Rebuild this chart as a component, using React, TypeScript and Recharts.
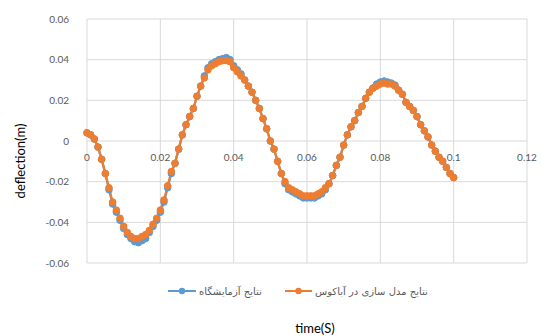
import React from 'react';
import { LineChart, Line, XAxis, YAxis, CartesianGrid, Legend, Label } from 'recharts';

const times = [
  0.000, 0.001, 0.002, 0.003, 0.004, 0.005, 0.006, 0.007, 0.008, 0.009,
  0.010, 0.011, 0.012, 0.013, 0.014, 0.015, 0.016, 0.017, 0.018, 0.019,
  0.020, 0.021, 0.022, 0.023, 0.024, 0.025, 0.026, 0.027, 0.028, 0.029,
  0.030, 0.031, 0.032, 0.033, 0.034, 0.035, 0.036, 0.037, 0.038, 0.039,
  0.040, 0.041, 0.042, 0.043, 0.044, 0.045, 0.046, 0.047, 0.048, 0.049,
  0.050, 0.051, 0.052, 0.053, 0.054, 0.055, 0.056, 0.057, 0.058, 0.059,
  0.060, 0.061, 0.062, 0.063, 0.064, 0.065, 0.066, 0.067, 0.068, 0.069,
  0.070, 0.071, 0.072, 0.073, 0.074, 0.075, 0.076, 0.077, 0.078, 0.079,
  0.080, 0.081, 0.082, 0.083, 0.084, 0.085, 0.086, 0.087, 0.088, 0.089,
  0.090, 0.091, 0.092, 0.093, 0.094, 0.095, 0.096, 0.097, 0.098, 0.099,
  0.100,
];

// نتایج مدل سازی در آباکوس (orange)
const abaqus = [
  0.004, 0.003, 0.001, -0.003, -0.009, -0.016, -0.023, -0.030, -0.034, -0.038,
  -0.042, -0.045, -0.047, -0.048, -0.048, -0.047, -0.046, -0.044, -0.041, -0.038,
  -0.034, -0.029, -0.022, -0.015, -0.011, -0.004, 0.003, 0.008, 0.012, 0.016,
  0.022, 0.027, 0.031, 0.035, 0.037, 0.038, 0.039, 0.0395, 0.0395, 0.039,
  0.036, 0.034, 0.032, 0.030, 0.027, 0.024, 0.020, 0.016, 0.011, 0.006,
  0.000, -0.004, -0.010, -0.016, -0.020, -0.023, -0.024, -0.025, -0.026, -0.027,
  -0.027, -0.027, -0.027, -0.026, -0.025, -0.023, -0.021, -0.017, -0.012, -0.008,
  -0.002, 0.003, 0.007, 0.010, 0.014, 0.017, 0.021, 0.024, 0.026, 0.027,
  0.028, 0.0285, 0.028, 0.028, 0.027, 0.025, 0.023, 0.019, 0.017, 0.015,
  0.012, 0.008, 0.005, 0.002, -0.002, -0.005, -0.008, -0.010, -0.013, -0.016,
  -0.018,
];

// نتایج آزمایشگاه (blue)
const experiment = [
  0.004, 0.003, 0.001, -0.003, -0.009, -0.016, -0.024, -0.031, -0.035, -0.039,
  -0.043, -0.046, -0.048, -0.0495, -0.050, -0.049, -0.048, -0.045, -0.042, -0.039,
  -0.035, -0.030, -0.023, -0.016, -0.011, -0.004, 0.003, 0.008, 0.012, 0.016,
  0.022, 0.027, 0.032, 0.036, 0.038, 0.039, 0.040, 0.0405, 0.041, 0.040,
  0.037, 0.035, 0.033, 0.030, 0.027, 0.024, 0.020, 0.016, 0.011, 0.006,
  0.000, -0.004, -0.010, -0.016, -0.021, -0.024, -0.025, -0.026, -0.027, -0.028,
  -0.028, -0.028, -0.028, -0.027, -0.026, -0.024, -0.021, -0.017, -0.012, -0.008,
  -0.002, 0.003, 0.007, 0.010, 0.014, 0.017, 0.021, 0.024, 0.026, 0.028,
  0.029, 0.0295, 0.029, 0.0285, 0.0275, 0.025, 0.023, 0.019, 0.017, 0.015,
  0.012, 0.008, 0.005, 0.002, -0.002, -0.005, -0.008, -0.010, -0.013, -0.016,
  -0.018,
];

const xTicks = [0, 0.02, 0.04, 0.06, 0.08, 0.1, 0.12];
const yTicks = [-0.06, -0.04, -0.02, 0, 0.02, 0.04, 0.06];

const seriesNames = {
  experiment: 'نتایج آزمایشگاه',
  abaqus: 'نتایج مدل سازی در آباکوس',
};

const data = times.map((t, i) => ({ t, experiment: experiment[i], abaqus: abaqus[i] }));

const W = 542;
const H = 336;
const TOP = 19;
const RIGHT = 15;
const Y_AXIS_W = 87;
const X_AXIS_H = 73;
const PLOT_H = H - TOP - X_AXIS_H;
const Y_MIN = -0.06;
const Y_MAX = 0.06;
const ZERO_Y = TOP + (PLOT_H * (Y_MAX - 0)) / (Y_MAX - Y_MIN);

const BLUE = '#5B9BD5';
const ORANGE = '#ED7D31';
const TICK_COLOR = '#595959';
const FONT = 'Lato, "Liberation Sans", sans-serif';

const XTick = (props: any) => {
  const { x, payload } = props;
  return (
    <text x={x} y={ZERO_Y + 16} textAnchor="middle" dominantBaseline="central" fontSize={10} fill={TICK_COLOR} fontFamily={FONT}>
      {payload.value}
    </text>
  );
};

const LegendContent = () => {
  const items = [
    { key: 'experiment', color: BLUE, left: 168, lineW: 28 },
    { key: 'abaqus', color: ORANGE, left: 285, lineW: 27 },
  ];
  return (
    <div style={{ position: 'relative', width: W, height: 16 }}>
      {items.map((it) => (
        <div key={it.key} style={{ position: 'absolute', left: it.left, top: 0, display: 'flex', alignItems: 'center', height: 16 }}>
          <svg width={it.lineW} height={10} style={{ display: 'block' }}>
            <line x1={0} y1={5} x2={it.lineW} y2={5} stroke={it.color} strokeWidth={2} />
            <circle cx={it.lineW / 2} cy={5} r={3.2} fill={it.color} />
          </svg>
          <span style={{ marginLeft: 3, fontSize: 10, color: TICK_COLOR, fontFamily: '"DejaVu Sans", sans-serif', whiteSpace: 'nowrap' }} dir="rtl">
            {(seriesNames as any)[it.key]}
          </span>
        </div>
      ))}
    </div>
  );
};

export default function App() {
  return (
    <div style={{ position: 'absolute', left: 0, top: 0, width: W, height: H, background: '#fff' }}>
      <LineChart width={W} height={H} data={data} margin={{ top: TOP, right: RIGHT, left: 0, bottom: 0 }}>
        <CartesianGrid stroke="#d9d9d9" strokeWidth={1} />
        <XAxis
          dataKey="t"
          type="number"
          domain={[0, 0.12]}
          ticks={xTicks}
          height={X_AXIS_H}
          axisLine={false}
          tickLine={false}
          tick={<XTick />}
          interval={0}
        >
          <Label
            content={() => (
              <text x={315} y={328} textAnchor="middle" dominantBaseline="central" fontSize={13} fill="#000" fontFamily={FONT}>
                time(S)
              </text>
            )}
          />
        </XAxis>
        <YAxis
          type="number"
          domain={[Y_MIN, Y_MAX]}
          ticks={yTicks}
          width={Y_AXIS_W}
          axisLine={false}
          tickLine={false}
          tickMargin={12}
          interval={0}
          tick={{ fontSize: 10, fill: TICK_COLOR, fontFamily: FONT }}
        >
          <Label
            content={() => (
              <text x={20} y={161} transform="rotate(-90 20 161)" textAnchor="middle" dominantBaseline="central" fontSize={13} fill="#000" fontFamily={FONT}>
                deflection(m)
              </text>
            )}
          />
        </YAxis>
        <Legend
          layout="horizontal"
          verticalAlign="middle"
          align="center"
          content={<LegendContent />}
          wrapperStyle={{ top: 283, left: 0, width: W, height: 16 }}
        />
        <Line
          type="linear"
          dataKey="experiment"
          name={seriesNames.experiment}
          stroke={BLUE}
          strokeWidth={2.25}
          dot={{ r: 3.3, fill: BLUE, stroke: BLUE, strokeWidth: 1 }}
          isAnimationActive={false}
        />
        <Line
          type="linear"
          dataKey="abaqus"
          name={seriesNames.abaqus}
          stroke={ORANGE}
          strokeWidth={2.25}
          dot={{ r: 3.3, fill: ORANGE, stroke: ORANGE, strokeWidth: 1 }}
          isAnimationActive={false}
        />
      </LineChart>
    </div>
  );
}
